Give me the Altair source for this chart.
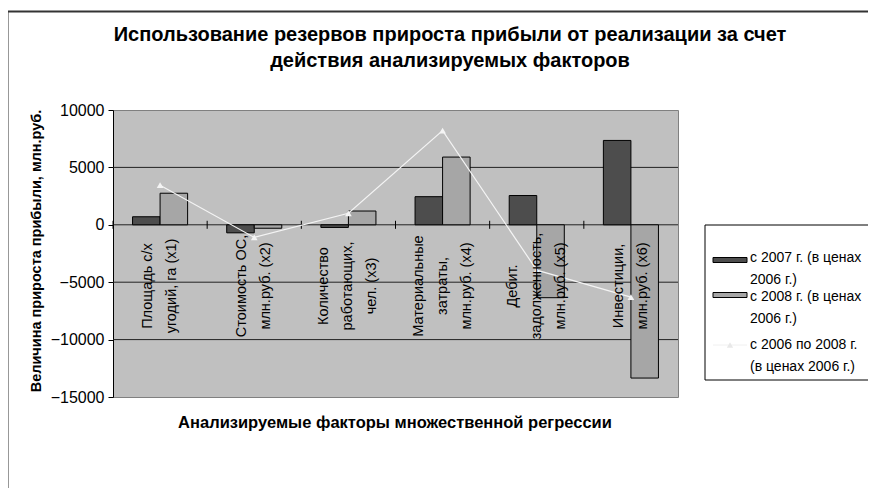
import altair as alt
import pandas as pd

# ---- data ----
categories = ["x1", "x2", "x3", "x4", "x5", "x6"]
cat_labels = [
    ["Площадь с/х", "угодий, га (x1)"],
    ["Стоимость ОС,", "млн.руб. (x2)"],
    ["Количество", "работающих,", "чел. (x3)"],
    ["Материальные", "затраты,", "млн.руб. (x4)"],
    ["Дебит.", "задолженность,", "млн.руб. (x5)"],
    ["Инвестиции,", "млн.руб. (x6)"],
]
series_names = ["с 2007 г. (в ценах 2006 г.)", "с 2008 г. (в ценах 2006 г.)", "с 2006 по 2008 г. (в ценах 2006 г.)"]
legend_lines = [
    ["с 2007 г. (в ценах", "2006 г.)"],
    [" с 2008 г. (в ценах", "2006 г.)"],
    ["с 2006 по 2008 г.", "(в ценах 2006 г.)"],
]
s2007 = [700, -700, -230, 2450, 2550, 7350]
s2008 = [2750, -300, 1200, 5900, -6350, -13350]
s0608 = [3450, -1100, 1000, 8200, -3950, -6300]
y_ticks = [-15000, -10000, -5000, 0, 5000, 10000]
grid_vals = [5000, 0, -5000, -10000]

title_lines = ["Использование резервов прироста прибыли от реализации за счет",
               "действия анализируемых факторов"]
y_title = "Величина прироста прибыли, млн.руб."
x_title = "Анализируемые факторы множественной регрессии"

FONT = "Liberation Sans"
W, H = 565, 287
LH = 24

bars_df = pd.DataFrame({
    "cat": categories * 2,
    "series": [series_names[0]] * 6 + [series_names[1]] * 6,
    "value": s2007 + s2008,
})
line_df = pd.DataFrame({"cat": categories, "value": s0608})
label_df = pd.DataFrame({"cat": categories, "label": cat_labels,
                         "n": [len(l) for l in cat_labels]})
grid_df = pd.DataFrame({"v": grid_vals})
one = pd.DataFrame({"k": [0]})

xscale = alt.Scale(domain=categories, paddingInner=0, paddingOuter=0)
yscale = alt.Scale(domain=[-15000, 10000], nice=False, zero=False)

X = alt.X("cat:N", scale=xscale, axis=None)

grid = alt.Chart(grid_df).mark_rule(color="#222", strokeWidth=1).encode(
    y=alt.Y("v:Q", scale=yscale,
            axis=alt.Axis(values=y_ticks, title=None, grid=False, domainColor="black",
                          tickColor="black", tickSize=5, labelFont=FONT, labelFontSize=16,
                          labelColor="black", labelPadding=4, format="d")),
)

bars = alt.Chart(bars_df).mark_bar(stroke="black", strokeWidth=1).encode(
    x=X,
    xOffset=alt.XOffset("series:N", sort=series_names[:2],
                        scale=alt.Scale(paddingOuter=0.71, paddingInner=0)),
    y=alt.Y("value:Q", scale=yscale),
    fill=alt.Fill("series:N", scale=alt.Scale(domain=series_names[:2], range=["#4d4d4d", "#a6a6a6"]),
                  legend=None),
)

ticks = alt.Chart(line_df).mark_rule(color="black", strokeWidth=1).encode(
    x=alt.X("cat:N", scale=xscale, axis=None, bandPosition=0),
    y=alt.datum(350),
    y2=alt.datum(-350),
)

line = alt.Chart(line_df).mark_line(color="#f4f4f4", strokeWidth=1.2).encode(
    x=X, y=alt.Y("value:Q", scale=yscale))
pts = alt.Chart(line_df).mark_point(shape="triangle-up", filled=True, color="#f4f4f4",
                                    size=45, opacity=1).encode(
    x=X, y=alt.Y("value:Q", scale=yscale))


def label_layer(n):
    return alt.Chart(label_df).transform_filter(f"datum.n == {n}").mark_text(
        angle=270, align="center", baseline="middle", font=FONT, fontSize=14.5,
        lineHeight=LH, color="black", dy=-(n - 1) * LH / 2).encode(
        x=X, y=alt.value(176), text="label:N")


labels2 = label_layer(2)
labels3 = label_layer(3)

# titles
title = alt.Chart(one).mark_text(font=FONT, fontSize=20, fontWeight="bold", lineHeight=26,
                                 align="center", baseline="middle", color="black").encode(
    x=alt.value(337), y=alt.value(-75), text=alt.value(title_lines))
ytitle = alt.Chart(one).mark_text(font=FONT, fontSize=14.5, fontWeight="bold", angle=270,
                                  align="center", baseline="middle", color="black").encode(
    x=alt.value(-76), y=alt.value(141), text=alt.value(y_title))
xtitle = alt.Chart(one).mark_text(font=FONT, fontSize=16.5, fontWeight="bold",
                                  align="center", baseline="middle", color="black").encode(
    x=alt.value(282), y=alt.value(313), text=alt.value(x_title))

# legend
leg_df = pd.DataFrame({
    "name": series_names,
    "lines": legend_lines,
    "ty": [148, 187, 235],
    "sy": [150, 185, 235],
})
leg_box = alt.Chart(one).mark_rect(fill="white", stroke="black", strokeWidth=1).encode(
    x=alt.value(592), x2=alt.value(800), y=alt.value(115), y2=alt.value(270))
leg_sw = alt.Chart(leg_df.iloc[:2]).mark_rect(stroke="black", strokeWidth=1).encode(
    x=alt.value(600), x2=alt.value(634),
    y=alt.Y("sy:Q", scale=None), y2=alt.Y2("sy2:Q"),
    fill=alt.Fill("name:N", scale=alt.Scale(domain=series_names[:2], range=["#4d4d4d", "#a6a6a6"]),
                  legend=None),
).transform_calculate(sy2="datum.sy + 2.5", sy="datum.sy - 2.5")
leg_ln = alt.Chart(leg_df.iloc[2:]).mark_rule(color="#f0f0f0", strokeWidth=1).encode(
    x=alt.value(600), x2=alt.value(634), y=alt.Y("sy:Q", scale=None))
leg_pt = alt.Chart(leg_df.iloc[2:]).mark_point(shape="triangle-up", filled=True, color="#e8e8e8",
                                              size=40, opacity=1).encode(
    x=alt.value(617), y=alt.Y("sy:Q", scale=None))
leg_tx = alt.Chart(leg_df).mark_text(font=FONT, fontSize=14, lineHeight=22, align="left",
                                     baseline="middle", color="black").encode(
    x=alt.value(637), y=alt.Y("ty:Q", scale=None), text="lines:N")

frame = alt.Chart(one).mark_rect(fill="white", fillOpacity=0, stroke="#333", strokeWidth=2).encode(
    x=alt.value(-105.5), x2=alt.value(900), y=alt.value(-98.5), y2=alt.value(700))

chart = alt.layer(
    grid, bars, ticks, line, pts, labels2, labels3, title, ytitle, xtitle,
    leg_box, leg_sw, leg_ln, leg_pt, leg_tx, frame
).resolve_scale(fill="independent").properties(
    width=W, height=H,
    autosize=alt.AutoSizeParams(type="none"),
    padding={"left": 105, "top": 102, "right": 190, "bottom": 91},
    background="white",
).configure_view(fill="#c0c0c0", stroke="#808080", strokeWidth=1)

chart.save("out.html", embed_options={"renderer": "svg", "actions": False})
